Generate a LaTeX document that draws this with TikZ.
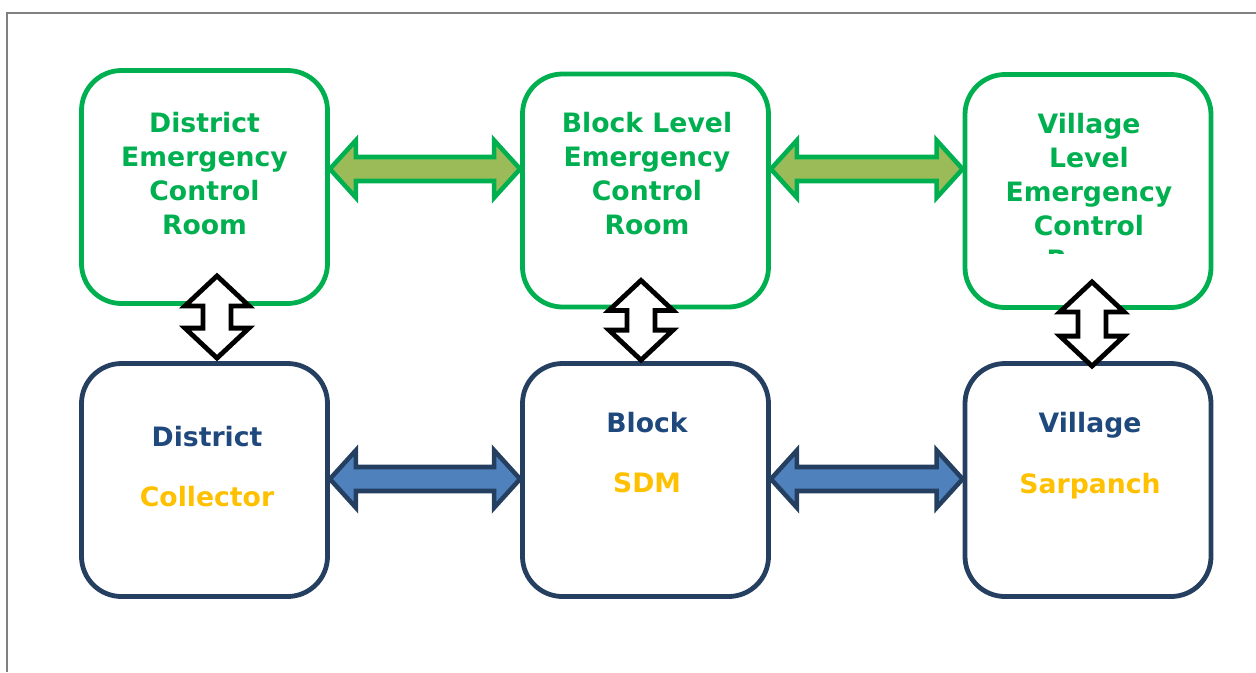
\documentclass[tikz,border=0pt]{standalone}
\usepackage{fontspec}
\setmainfont{DejaVu Sans}
\usepackage{tikz}
\usetikzlibrary{calc}
\definecolor{ecrGreen}{HTML}{00B050}
\definecolor{arrGreen}{HTML}{9BBB59}
\definecolor{offNavy}{HTML}{243F60}
\definecolor{txtNavy}{HTML}{1F497D}
\definecolor{arrBlue}{HTML}{4F81BD}
\definecolor{offOrange}{HTML}{FFC000}
\tikzset{
roomBox/.style = {rectangle, rounded corners=30pt, draw=ecrGreen, line width=3.6pt, minimum width=184.5pt, minimum height=174.75pt},
offBox/.style = {rectangle, rounded corners=30pt, draw=offNavy, line width=3.6pt, minimum width=184.5pt, minimum height=174.75pt},
gText/.style = {align=center, text=ecrGreen, font=\bfseries\fontsize{20}{25.5}\selectfont},
bText/.style = {align=center, text=txtNavy, font=\bfseries\fontsize{20}{25.5}\selectfont},
gArrow/.style = {draw=ecrGreen, fill=arrGreen, line width=3.4pt},
bArrow/.style = {draw=offNavy, fill=arrBlue, line width=3.4pt},
wArrow/.style = {draw=black, fill=white, line width=3.6pt},
}
% double block arrows between two tips
\newcommand{\hArrow}[3]{\draw[#1] let \p1=(#2), \p2=(#3) in
  (\x1,\y1) -- (\x1+19.5pt,\y1+21.5pt) -- (\x1+19.5pt,\y1+9pt) -- (\x2-19.5pt,\y1+9pt)
  -- (\x2-19.5pt,\y1+21.5pt) -- (\x2,\y1) -- (\x2-19.5pt,\y1-21.5pt) -- (\x2-19.5pt,\y1-9pt)
  -- (\x1+19.5pt,\y1-9pt) -- (\x1+19.5pt,\y1-21.5pt) -- cycle;}
\newcommand{\vArrow}[3]{\draw[#1] let \p1=(#2), \p2=(#3) in
  (\x1,\y1) -- (\x1+24pt,\y1-22.5pt) -- (\x1+10.5pt,\y1-22.5pt) -- (\x1+10.5pt,\y2+22.5pt)
  -- (\x1+24pt,\y2+22.5pt) -- (\x1,\y2) -- (\x1-24pt,\y2+22.5pt) -- (\x1-10.5pt,\y2+22.5pt)
  -- (\x1-10.5pt,\y1-22.5pt) -- (\x1-24pt,\y1-22.5pt) -- cycle;}

\begin{document}
\begin{tikzpicture}[x=0.75pt, y=-0.75pt]
    \useasboundingbox (0,0) rectangle (1256,672);
    \draw[gray, line width=1.2pt] (7,672) -- (7,13) -- (1256,13);

    % control rooms
    \node[roomBox] (distRoom) at (204.5,187) {};
    \node[roomBox] (blockRoom) at (645.5,190.5) {};
    \node[roomBox] (villRoom) at (1088,191) {};
    \node[gText] (distRoomTxt) at (204.5,173.5) {District\\Emergency\\Control\\Room};
    \node[gText] (blockRoomTxt) at (647,173.5) {Block Level\\Emergency\\Control\\Room};
    \begin{scope}
        \clip (900,60) rectangle (1256,253);
        \node[gText] (villRoomTxt) at (1089,191.5) {Village\\Level\\Emergency\\Control\\Room};
    \end{scope}

    % officers
    \node[offBox] (distBox) at (204.5,480) {};
    \node[offBox] (blockBox) at (645.5,480) {};
    \node[offBox] (villBox) at (1088,480) {};
    \node[bText] (distBoxTxt) at (207,466.5) {District\\[20pt]\textcolor{offOrange}{Collector}};
    \node[bText] (blockBoxTxt) at (647,452.5) {Block\\[20pt]\textcolor{offOrange}{SDM}};
    \node[bText] (villBoxTxt) at (1090,455.5) {Village\\[20pt]\textcolor{offOrange}{Sarpanch}};

    \coordinate (gRow) at (0,169);
    \coordinate (bRow) at (0,479);
    \hArrow{gArrow}{distRoom.east |- gRow}{blockRoom.west |- gRow}
    \hArrow{gArrow}{blockRoom.east |- gRow}{villRoom.west |- gRow}
    \hArrow{bArrow}{distBox.east |- bRow}{blockBox.west |- bRow}
    \hArrow{bArrow}{blockBox.east |- bRow}{villBox.west |- bRow}

    \vArrow{wArrow}{$(distRoom.south)+(12.5,-30)$}{$(distBox.north)+(12.5,-3)$}
    \vArrow{wArrow}{$(blockRoom.south)+(-4.5,-29)$}{$(blockBox.north)+(-4.5,-1)$}
    \vArrow{wArrow}{$(villRoom.south)+(4,-28)$}{$(villBox.north)+(4,5)$}
\end{tikzpicture}
\end{document}
